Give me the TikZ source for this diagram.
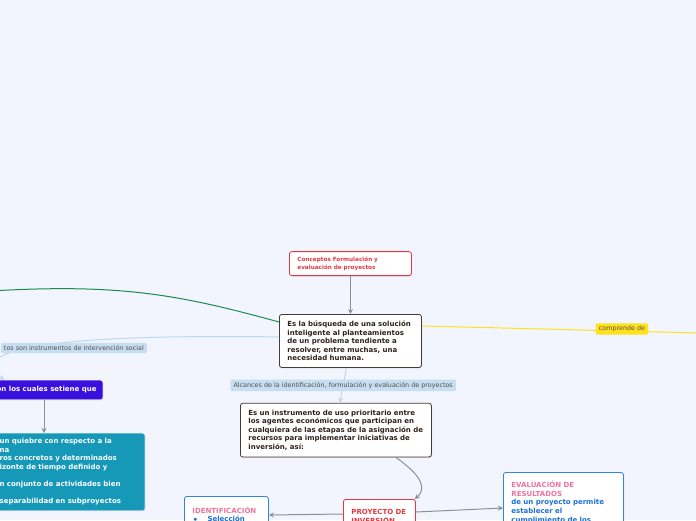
\documentclass[tikz,border=0pt]{standalone}
\usepackage{fontspec}
\setmainfont{DejaVu Sans}
\usetikzlibrary{arrows.meta,positioning,shadows}
\definecolor{mback}{HTML}{F2F5FD}
\definecolor{mink}{HTML}{2E211C}
\definecolor{mframe}{HTML}{4A3A33}
\definecolor{mred}{HTML}{E23A44}
\definecolor{mgray}{HTML}{8C9099}
\definecolor{mgreen}{HTML}{1C8A4C}
\definecolor{myellow}{HTML}{FFE21C}
\definecolor{msky}{HTML}{BCD8EF}
\definecolor{mskyfill}{HTML}{C5DEF1}
\definecolor{mviolet}{HTML}{3A10DE}
\definecolor{mteal}{HTML}{1698B9}
\definecolor{mblue}{HTML}{2F86E6}
\definecolor{mbluetext}{HTML}{1C6FD8}
\definecolor{mpink}{HTML}{F0739C}

\begin{document}
\begin{tikzpicture}[
  x=1pt, y=-1pt,
  box/.style={
    draw=mframe,
    fill=white,
    line width=0.8pt,
    rounded corners=2.5pt,
    align=left,
    inner xsep=8pt,
    inner ysep=6.5pt,
    text=mink,
    font=\fontsize{7}{8.6}\selectfont\bfseries,
    drop shadow={opacity=0.25, shadow xshift=0.8pt, shadow yshift=-0.8pt}
  },
  redbox/.style={box, draw=mred, text=mred},
  bluebox/.style={box, draw=mblue, text=mbluetext},
  solidbox/.style={box, draw=none, text=white},
  flow/.style={-{Stealth[length=5pt, width=5pt]}, draw=mgray, line width=1pt},
  soft flow/.style={-{Stealth[length=5pt, width=5pt]}, draw=msky, line width=1pt},
  relation/.style={
    fill=mskyfill,
    rounded corners=1pt,
    inner xsep=3pt,
    inner ysep=2.5pt,
    text=mink!80,
    font=\fontsize{6.4}{7.5}\selectfont
  },
  marker/.style={relation, fill=myellow}
]
\useasboundingbox (0,0) rectangle (696,520);
\fill[mback] (0,0) rectangle (696,520);
\clip (0,0) rectangle (696,520);

\node[box, anchor=north west, text width=126pt] (solution) at (279,314) {
  Es la búsqueda de una solución\\
  inteligente al planteamientos\\
  de un problema tendiente a\\
  resolver, entre muchas, una\\
  necesidad humana.
};

\node[redbox, above=38pt of solution, text width=106pt, inner ysep=5pt,
  font=\fontsize{5.7}{8.2}\selectfont\bfseries] (concepts) {
  Conceptos Formulación y\\
  evaluación de proyectos
};
\draw[flow] (concepts) -- (solution);

\coordinate (farleft) at (-40,293);
\draw[mgreen, line width=1pt]
  ([yshift=-8pt]solution.north west) .. controls (170,292) and (110,282) .. (farleft);

\coordinate (farright) at (700,333);
\draw[myellow, line width=1pt] ([yshift=15pt]solution.east) -- (farright);
\node[marker] (includes) at (622,329) {comprende de};

\node[solidbox, fill=mviolet, anchor=north east, minimum height=19pt,
  inner xsep=6pt, inner ysep=3pt] (which) at (103,380) {on los cuales setiene que};

\draw[soft flow]
  ([yshift=4pt]solution.west) .. controls (150,335) and (-50,338) .. ([xshift=14pt]which.north west);
\node[relation, anchor=east] (social) at (147,348) {tos son instrumentos de intervención social};

\node[solidbox, fill=mteal, anchor=north east, text width=140pt,
  inner xsep=5pt, inner ysep=5pt] (traits) at (145,433) {
  un quiebre con respecto a la\\
  na\\
  ros concretos y determinados\\
  izonte de tiempo definido y\\
  \mbox{}\\
  n conjunto de actividades bien\\
  \mbox{}\\
  separabilidad en subproyectos
};
\draw[flow] (which.south -| 44,0) -- (traits.north -| 44,0);

\node[box, below=35pt of solution, xshift=-14.5pt, text width=175pt] (instrument) {
  Es un instrumento de uso prioritario entre\\
  los agentes económicos que participan en\\
  cualquiera de las etapas de la asignación de\\
  recursos para implementar iniciativas de\\
  inversión, así:
};
\draw[soft flow] ([xshift=-4pt]solution.south) -- node[relation] {
  Alcances de la identificación, formulación y evaluación de proyectos
} ([xshift=4pt]instrument.north);

\node[redbox, anchor=north west, text width=56pt, minimum height=34pt,
  inner ysep=3.5pt] (project) at (343,499) {
  PROYECTO DE\\
  INVERSIÓN
};
\draw[flow] ([xshift=-36pt]instrument.south east)
  .. controls (414,470) and (430,486) .. ([xshift=-1pt]project.north east);

\node[bluebox, anchor=north west, text width=68pt, minimum height=36pt,
  inner ysep=3.5pt] (identify) at (184,496) {
  {\color{mpink}IDENTIFICACIÓN}\\
  \hspace*{1pt}$\bullet$\hspace{10pt}Selección
};
\draw[flow] ([yshift=-15pt]project.north west) -- ([yshift=-19pt]identify.north east);

\node[bluebox, anchor=north west, text width=104pt, minimum height=60pt,
  inner ysep=3.5pt] (results) at (503,472) {
  {\color{mpink}EVALUACIÓN DE\\
  RESULTADOS}\\
  de un proyecto permite\\
  establecer el\\
  cumplimiento de los
};
\draw[flow] ([yshift=-13pt]project.north east) -- ([yshift=-36pt]results.north west);

\end{tikzpicture}
\end{document}
